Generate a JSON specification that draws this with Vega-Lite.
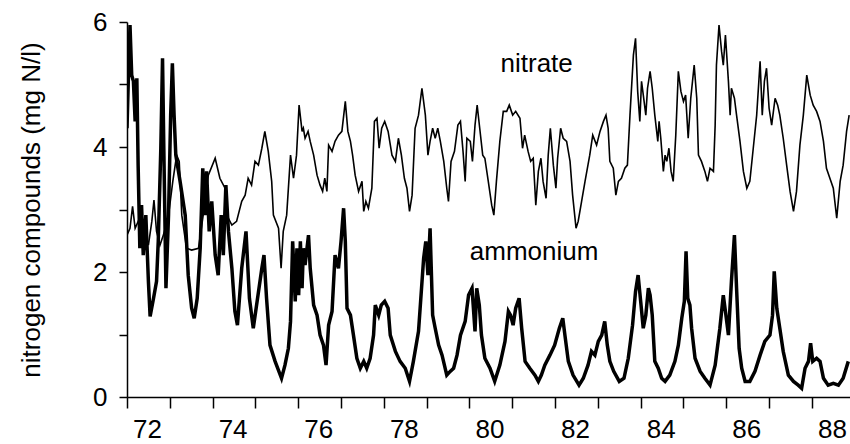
{
  "$schema": "https://vega.github.io/schema/vega-lite/v6.json",
  "width": 723,
  "height": 375,
  "autosize": {"type": "none"},
  "padding": {"left": 127, "top": 22, "right": 0, "bottom": 47},
  "background": "white",
  "config": {
    "view": {"stroke": null},
    "font": "Liberation Sans",
    "axis": {
      "domainColor": "black", "tickColor": "black", "labelColor": "black", "titleColor": "black",
      "grid": false, "labelFont": "Liberation Sans", "titleFont": "Liberation Sans",
      "labelFontSize": 26, "titleFontSize": 26, "titleFontWeight": "normal",
      "domainWidth": 1.5, "tickWidth": 1.5
    }
  },
  "datasets": {
    "nitrate": [
      {"year":72.00,"value":2.59},{"year":72.07,"value":2.70},{"year":72.13,"value":3.05},{"year":72.19,"value":2.70},{"year":72.26,"value":2.81},{"year":72.34,"value":2.59},{"year":72.42,"value":2.65},{"year":72.50,"value":2.43},{"year":72.58,"value":2.81},{"year":72.63,"value":3.15},{"year":72.69,"value":2.65},{"year":72.77,"value":2.43},{"year":72.85,"value":2.59},{"year":72.97,"value":2.91},{"year":73.07,"value":3.45},{"year":73.16,"value":3.87},{"year":73.22,"value":3.77},{"year":73.28,"value":2.91},{"year":73.39,"value":2.38},{"year":73.51,"value":2.35},{"year":73.67,"value":2.38},{"year":73.78,"value":2.91},{"year":73.90,"value":3.55},{"year":74.06,"value":3.82},{"year":74.17,"value":3.50},{"year":74.29,"value":3.34},{"year":74.33,"value":2.91},{"year":74.45,"value":2.75},{"year":74.56,"value":2.81},{"year":74.68,"value":3.13},{"year":74.76,"value":3.23},{"year":74.83,"value":3.50},{"year":74.91,"value":3.39},{"year":74.99,"value":3.77},{"year":75.07,"value":3.71},{"year":75.15,"value":3.98},{"year":75.22,"value":4.25},{"year":75.30,"value":3.93},{"year":75.38,"value":3.45},{"year":75.42,"value":2.91},{"year":75.54,"value":2.70},{"year":75.60,"value":2.06},{"year":75.65,"value":2.65},{"year":75.73,"value":2.91},{"year":75.82,"value":3.87},{"year":75.89,"value":3.50},{"year":75.96,"value":3.87},{"year":76.02,"value":4.67},{"year":76.09,"value":4.25},{"year":76.12,"value":4.30},{"year":76.16,"value":4.14},{"year":76.23,"value":4.25},{"year":76.28,"value":4.09},{"year":76.36,"value":3.87},{"year":76.44,"value":3.55},{"year":76.51,"value":3.39},{"year":76.57,"value":3.29},{"year":76.62,"value":3.50},{"year":76.67,"value":3.29},{"year":76.71,"value":4.03},{"year":76.79,"value":3.93},{"year":76.86,"value":4.09},{"year":76.94,"value":4.19},{"year":77.02,"value":4.25},{"year":77.10,"value":4.73},{"year":77.16,"value":4.25},{"year":77.22,"value":4.09},{"year":77.27,"value":3.87},{"year":77.33,"value":3.55},{"year":77.41,"value":3.29},{"year":77.49,"value":3.45},{"year":77.53,"value":2.97},{"year":77.58,"value":3.13},{"year":77.64,"value":3.02},{"year":77.72,"value":3.34},{"year":77.78,"value":4.41},{"year":77.84,"value":4.46},{"year":77.89,"value":3.98},{"year":77.95,"value":4.30},{"year":78.02,"value":4.41},{"year":78.10,"value":4.25},{"year":78.19,"value":3.87},{"year":78.27,"value":3.77},{"year":78.34,"value":4.14},{"year":78.41,"value":3.87},{"year":78.48,"value":3.50},{"year":78.54,"value":3.34},{"year":78.60,"value":2.97},{"year":78.66,"value":3.23},{"year":78.73,"value":4.30},{"year":78.81,"value":4.51},{"year":78.89,"value":4.94},{"year":78.97,"value":4.51},{"year":79.03,"value":3.87},{"year":79.08,"value":4.09},{"year":79.14,"value":4.30},{"year":79.20,"value":4.14},{"year":79.26,"value":4.30},{"year":79.32,"value":4.09},{"year":79.40,"value":3.77},{"year":79.47,"value":3.34},{"year":79.51,"value":3.13},{"year":79.57,"value":3.77},{"year":79.65,"value":3.93},{"year":79.73,"value":4.35},{"year":79.79,"value":4.41},{"year":79.85,"value":3.93},{"year":79.90,"value":3.45},{"year":79.94,"value":4.14},{"year":80.02,"value":4.09},{"year":80.07,"value":3.77},{"year":80.13,"value":4.35},{"year":80.18,"value":4.67},{"year":80.24,"value":4.30},{"year":80.31,"value":3.87},{"year":80.36,"value":3.82},{"year":80.44,"value":3.45},{"year":80.52,"value":3.07},{"year":80.57,"value":2.91},{"year":80.63,"value":3.45},{"year":80.71,"value":4.09},{"year":80.79,"value":4.57},{"year":80.87,"value":4.57},{"year":80.93,"value":4.67},{"year":81.01,"value":4.51},{"year":81.08,"value":4.57},{"year":81.18,"value":4.46},{"year":81.24,"value":3.98},{"year":81.29,"value":4.19},{"year":81.37,"value":3.93},{"year":81.43,"value":3.77},{"year":81.49,"value":3.82},{"year":81.55,"value":3.07},{"year":81.61,"value":3.61},{"year":81.67,"value":3.82},{"year":81.72,"value":3.45},{"year":81.79,"value":3.18},{"year":81.84,"value":3.87},{"year":81.89,"value":4.30},{"year":81.96,"value":3.71},{"year":82.02,"value":3.34},{"year":82.06,"value":3.82},{"year":82.13,"value":4.30},{"year":82.19,"value":4.14},{"year":82.27,"value":4.09},{"year":82.35,"value":3.77},{"year":82.41,"value":3.23},{"year":82.49,"value":2.70},{"year":82.54,"value":2.81},{"year":82.62,"value":3.13},{"year":82.70,"value":3.45},{"year":82.81,"value":3.87},{"year":82.88,"value":4.19},{"year":82.97,"value":4.03},{"year":83.05,"value":4.25},{"year":83.13,"value":4.41},{"year":83.19,"value":4.51},{"year":83.24,"value":4.30},{"year":83.28,"value":3.77},{"year":83.36,"value":3.66},{"year":83.42,"value":3.23},{"year":83.48,"value":3.45},{"year":83.55,"value":3.50},{"year":83.63,"value":3.66},{"year":83.69,"value":3.71},{"year":83.75,"value":4.51},{"year":83.83,"value":5.47},{"year":83.88,"value":5.74},{"year":83.93,"value":4.89},{"year":83.98,"value":4.41},{"year":84.02,"value":5.05},{"year":84.08,"value":4.73},{"year":84.12,"value":4.51},{"year":84.16,"value":4.94},{"year":84.22,"value":5.21},{"year":84.27,"value":4.94},{"year":84.33,"value":4.51},{"year":84.40,"value":4.09},{"year":84.43,"value":4.41},{"year":84.47,"value":4.14},{"year":84.53,"value":3.61},{"year":84.57,"value":3.87},{"year":84.61,"value":3.77},{"year":84.66,"value":3.98},{"year":84.71,"value":3.61},{"year":84.76,"value":3.45},{"year":84.82,"value":4.19},{"year":84.88,"value":5.21},{"year":84.94,"value":4.89},{"year":85.00,"value":4.73},{"year":85.05,"value":4.83},{"year":85.11,"value":4.14},{"year":85.17,"value":4.78},{"year":85.25,"value":5.31},{"year":85.31,"value":4.78},{"year":85.35,"value":3.87},{"year":85.42,"value":3.77},{"year":85.50,"value":3.61},{"year":85.56,"value":3.45},{"year":85.62,"value":3.66},{"year":85.70,"value":3.61},{"year":85.74,"value":4.35},{"year":85.77,"value":5.31},{"year":85.83,"value":5.95},{"year":85.89,"value":5.53},{"year":85.93,"value":5.31},{"year":85.98,"value":5.79},{"year":86.05,"value":5.05},{"year":86.09,"value":4.51},{"year":86.12,"value":4.94},{"year":86.19,"value":4.78},{"year":86.24,"value":4.51},{"year":86.32,"value":4.09},{"year":86.40,"value":3.61},{"year":86.48,"value":3.34},{"year":86.55,"value":3.45},{"year":86.63,"value":3.98},{"year":86.71,"value":4.51},{"year":86.79,"value":5.37},{"year":86.84,"value":4.51},{"year":86.89,"value":5.05},{"year":86.94,"value":5.26},{"year":87.00,"value":4.62},{"year":87.06,"value":4.35},{"year":87.14,"value":4.78},{"year":87.20,"value":4.67},{"year":87.25,"value":4.51},{"year":87.33,"value":4.14},{"year":87.41,"value":3.71},{"year":87.49,"value":3.29},{"year":87.57,"value":2.97},{"year":87.64,"value":3.29},{"year":87.72,"value":4.03},{"year":87.80,"value":4.51},{"year":87.88,"value":5.15},{"year":87.96,"value":4.83},{"year":88.03,"value":4.67},{"year":88.11,"value":4.57},{"year":88.19,"value":4.41},{"year":88.27,"value":4.09},{"year":88.34,"value":3.66},{"year":88.42,"value":3.50},{"year":88.50,"value":3.34},{"year":88.58,"value":2.86},{"year":88.66,"value":3.45},{"year":88.73,"value":3.71},{"year":88.81,"value":4.25},{"year":88.87,"value":4.51}
    ],
    "ammonium": [
      {"year":72.00,"value":4.30},{"year":72.03,"value":5.05},{"year":72.07,"value":5.95},{"year":72.11,"value":5.15},{"year":72.15,"value":5.05},{"year":72.19,"value":4.41},{"year":72.23,"value":5.10},{"year":72.26,"value":3.71},{"year":72.30,"value":2.38},{"year":72.34,"value":3.07},{"year":72.38,"value":2.27},{"year":72.44,"value":2.91},{"year":72.50,"value":1.85},{"year":72.54,"value":1.29},{"year":72.62,"value":1.58},{"year":72.69,"value":1.85},{"year":72.73,"value":2.49},{"year":72.79,"value":3.98},{"year":72.83,"value":5.42},{"year":72.86,"value":3.98},{"year":72.91,"value":1.74},{"year":72.97,"value":2.91},{"year":73.02,"value":4.51},{"year":73.06,"value":5.34},{"year":73.10,"value":4.51},{"year":73.14,"value":3.87},{"year":73.24,"value":3.45},{"year":73.36,"value":2.91},{"year":73.43,"value":1.95},{"year":73.51,"value":1.42},{"year":73.57,"value":1.26},{"year":73.64,"value":1.58},{"year":73.71,"value":2.38},{"year":73.77,"value":3.66},{"year":73.82,"value":2.91},{"year":73.86,"value":3.61},{"year":73.92,"value":2.65},{"year":73.98,"value":3.13},{"year":74.06,"value":2.27},{"year":74.13,"value":1.95},{"year":74.20,"value":2.91},{"year":74.25,"value":2.27},{"year":74.31,"value":3.39},{"year":74.37,"value":2.65},{"year":74.45,"value":2.06},{"year":74.52,"value":1.37},{"year":74.58,"value":1.15},{"year":74.68,"value":2.06},{"year":74.78,"value":2.65},{"year":74.86,"value":1.58},{"year":74.95,"value":1.10},{"year":75.05,"value":1.58},{"year":75.15,"value":2.06},{"year":75.20,"value":2.27},{"year":75.26,"value":1.58},{"year":75.34,"value":0.83},{"year":75.46,"value":0.57},{"year":75.61,"value":0.30},{"year":75.69,"value":0.51},{"year":75.77,"value":0.78},{"year":75.82,"value":1.21},{"year":75.87,"value":2.49},{"year":75.93,"value":1.53},{"year":75.97,"value":2.38},{"year":76.01,"value":1.63},{"year":76.05,"value":2.49},{"year":76.09,"value":1.74},{"year":76.12,"value":2.38},{"year":76.16,"value":2.11},{"year":76.24,"value":2.59},{"year":76.28,"value":2.06},{"year":76.36,"value":1.47},{"year":76.44,"value":1.31},{"year":76.51,"value":0.99},{"year":76.59,"value":0.83},{"year":76.65,"value":0.51},{"year":76.71,"value":1.15},{"year":76.79,"value":1.37},{"year":76.86,"value":2.27},{"year":76.94,"value":2.06},{"year":77.00,"value":2.49},{"year":77.06,"value":3.02},{"year":77.10,"value":2.49},{"year":77.14,"value":1.42},{"year":77.22,"value":1.31},{"year":77.29,"value":0.99},{"year":77.37,"value":0.62},{"year":77.45,"value":0.46},{"year":77.53,"value":0.57},{"year":77.60,"value":0.46},{"year":77.68,"value":0.62},{"year":77.76,"value":0.99},{"year":77.80,"value":1.47},{"year":77.88,"value":1.31},{"year":77.94,"value":1.47},{"year":78.02,"value":1.53},{"year":78.10,"value":1.42},{"year":78.15,"value":0.99},{"year":78.27,"value":0.73},{"year":78.38,"value":0.57},{"year":78.50,"value":0.46},{"year":78.60,"value":0.25},{"year":78.69,"value":0.57},{"year":78.81,"value":1.05},{"year":78.93,"value":2.22},{"year":78.98,"value":2.49},{"year":79.03,"value":1.95},{"year":79.08,"value":2.70},{"year":79.14,"value":1.31},{"year":79.20,"value":1.10},{"year":79.28,"value":0.83},{"year":79.36,"value":0.67},{"year":79.47,"value":0.35},{"year":79.55,"value":0.41},{"year":79.63,"value":0.46},{"year":79.71,"value":0.67},{"year":79.79,"value":0.99},{"year":79.90,"value":1.21},{"year":79.98,"value":1.63},{"year":80.06,"value":1.74},{"year":80.13,"value":1.05},{"year":80.17,"value":1.74},{"year":80.23,"value":1.47},{"year":80.28,"value":0.99},{"year":80.36,"value":0.62},{"year":80.48,"value":0.46},{"year":80.59,"value":0.25},{"year":80.71,"value":0.51},{"year":80.83,"value":0.89},{"year":80.91,"value":1.37},{"year":80.96,"value":1.31},{"year":81.02,"value":1.15},{"year":81.08,"value":1.42},{"year":81.16,"value":1.58},{"year":81.22,"value":1.10},{"year":81.30,"value":0.57},{"year":81.41,"value":0.46},{"year":81.53,"value":0.35},{"year":81.61,"value":0.25},{"year":81.68,"value":0.35},{"year":81.76,"value":0.51},{"year":81.88,"value":0.67},{"year":81.99,"value":0.83},{"year":82.10,"value":1.10},{"year":82.18,"value":1.26},{"year":82.23,"value":0.99},{"year":82.31,"value":0.57},{"year":82.42,"value":0.35},{"year":82.56,"value":0.19},{"year":82.66,"value":0.30},{"year":82.77,"value":0.51},{"year":82.85,"value":0.73},{"year":82.93,"value":0.67},{"year":83.01,"value":0.89},{"year":83.09,"value":0.99},{"year":83.16,"value":1.21},{"year":83.22,"value":0.83},{"year":83.28,"value":0.57},{"year":83.37,"value":0.41},{"year":83.50,"value":0.25},{"year":83.61,"value":0.30},{"year":83.71,"value":0.62},{"year":83.81,"value":1.15},{"year":83.88,"value":1.69},{"year":83.94,"value":1.95},{"year":84.00,"value":1.53},{"year":84.06,"value":1.10},{"year":84.12,"value":1.31},{"year":84.18,"value":1.74},{"year":84.22,"value":1.63},{"year":84.27,"value":1.31},{"year":84.33,"value":0.57},{"year":84.41,"value":0.46},{"year":84.49,"value":0.30},{"year":84.57,"value":0.25},{"year":84.68,"value":0.35},{"year":84.80,"value":0.57},{"year":84.88,"value":0.83},{"year":84.96,"value":1.26},{"year":85.02,"value":1.53},{"year":85.06,"value":2.33},{"year":85.10,"value":1.58},{"year":85.15,"value":1.47},{"year":85.19,"value":1.10},{"year":85.27,"value":0.62},{"year":85.39,"value":0.41},{"year":85.50,"value":0.30},{"year":85.62,"value":0.19},{"year":85.74,"value":0.51},{"year":85.85,"value":1.10},{"year":85.93,"value":1.63},{"year":85.98,"value":1.37},{"year":86.05,"value":0.99},{"year":86.12,"value":1.85},{"year":86.19,"value":2.59},{"year":86.24,"value":1.74},{"year":86.30,"value":0.78},{"year":86.36,"value":0.46},{"year":86.44,"value":0.25},{"year":86.55,"value":0.25},{"year":86.67,"value":0.41},{"year":86.79,"value":0.67},{"year":86.90,"value":0.89},{"year":87.02,"value":0.99},{"year":87.08,"value":1.31},{"year":87.12,"value":2.01},{"year":87.18,"value":1.42},{"year":87.25,"value":1.10},{"year":87.33,"value":0.73},{"year":87.45,"value":0.35},{"year":87.57,"value":0.25},{"year":87.68,"value":0.19},{"year":87.76,"value":0.14},{"year":87.84,"value":0.46},{"year":87.92,"value":0.57},{"year":87.97,"value":0.86},{"year":88.02,"value":0.57},{"year":88.11,"value":0.62},{"year":88.19,"value":0.57},{"year":88.27,"value":0.30},{"year":88.38,"value":0.19},{"year":88.50,"value":0.22},{"year":88.62,"value":0.19},{"year":88.73,"value":0.30},{"year":88.85,"value":0.57}
    ],
    "labels": [
      {"label": "nitrate", "year": 81.57, "value": 5.2},
      {"label": "ammonium", "year": 81.51, "value": 2.19}
    ]
  },
  "layer": [
    {
      "mark": {"type": "rule", "color": "black", "strokeWidth": 1.5},
      "encoding": {
        "y": {"datum": 6, "type": "quantitative", "scale": {"domain": [0, 6], "nice": false}}
      }
    },
    {
      "data": {"name": "nitrate"},
      "mark": {"type": "line", "color": "black", "strokeWidth": 1.6, "clip": true},
      "encoding": {
        "x": {
          "field": "year", "type": "quantitative",
          "scale": {"domain": [72, 88.89], "nice": false, "zero": false},
          "axis": {
            "title": null, "values": [72,73,74,75,76,77,78,79,80,81,82,83,84,85,86,87,88],
            "format": "d",
            "labelExpr": "datum.value % 2 == 0 ? datum.label : ''",
            "tickSize": 11, "labelPadding": 8, "labelOffset": 20, "labelFlush": false, "labelOverlap": false
          }
        },
        "y": {
          "field": "value", "type": "quantitative",
          "scale": {"domain": [0, 6], "nice": false},
          "axis": {
            "title": "nitrogen compounds (mg N/l)", "values": [0,1,2,3,4,5,6],
            "format": "d",
            "labelExpr": "datum.value % 2 == 0 ? datum.label : ''",
            "tickSize": 8, "labelPadding": 12, "titlePadding": 48, "labelFlush": false, "labelOverlap": false
          }
        }
      }
    },
    {
      "data": {"name": "ammonium"},
      "mark": {"type": "line", "color": "black", "strokeWidth": 3.5, "clip": true},
      "encoding": {
        "x": {"field": "year", "type": "quantitative", "scale": {"domain": [72, 88.89], "nice": false, "zero": false}},
        "y": {"field": "value", "type": "quantitative", "scale": {"domain": [0, 6], "nice": false}}
      }
    },
    {
      "data": {"name": "labels"},
      "mark": {"type": "text", "fontSize": 26, "align": "center", "baseline": "alphabetic", "color": "black", "font": "Liberation Sans"},
      "encoding": {
        "x": {"field": "year", "type": "quantitative", "scale": {"domain": [72, 88.89], "nice": false, "zero": false}},
        "y": {"field": "value", "type": "quantitative", "scale": {"domain": [0, 6], "nice": false}},
        "text": {"field": "label", "type": "nominal"}
      }
    }
  ]
}
